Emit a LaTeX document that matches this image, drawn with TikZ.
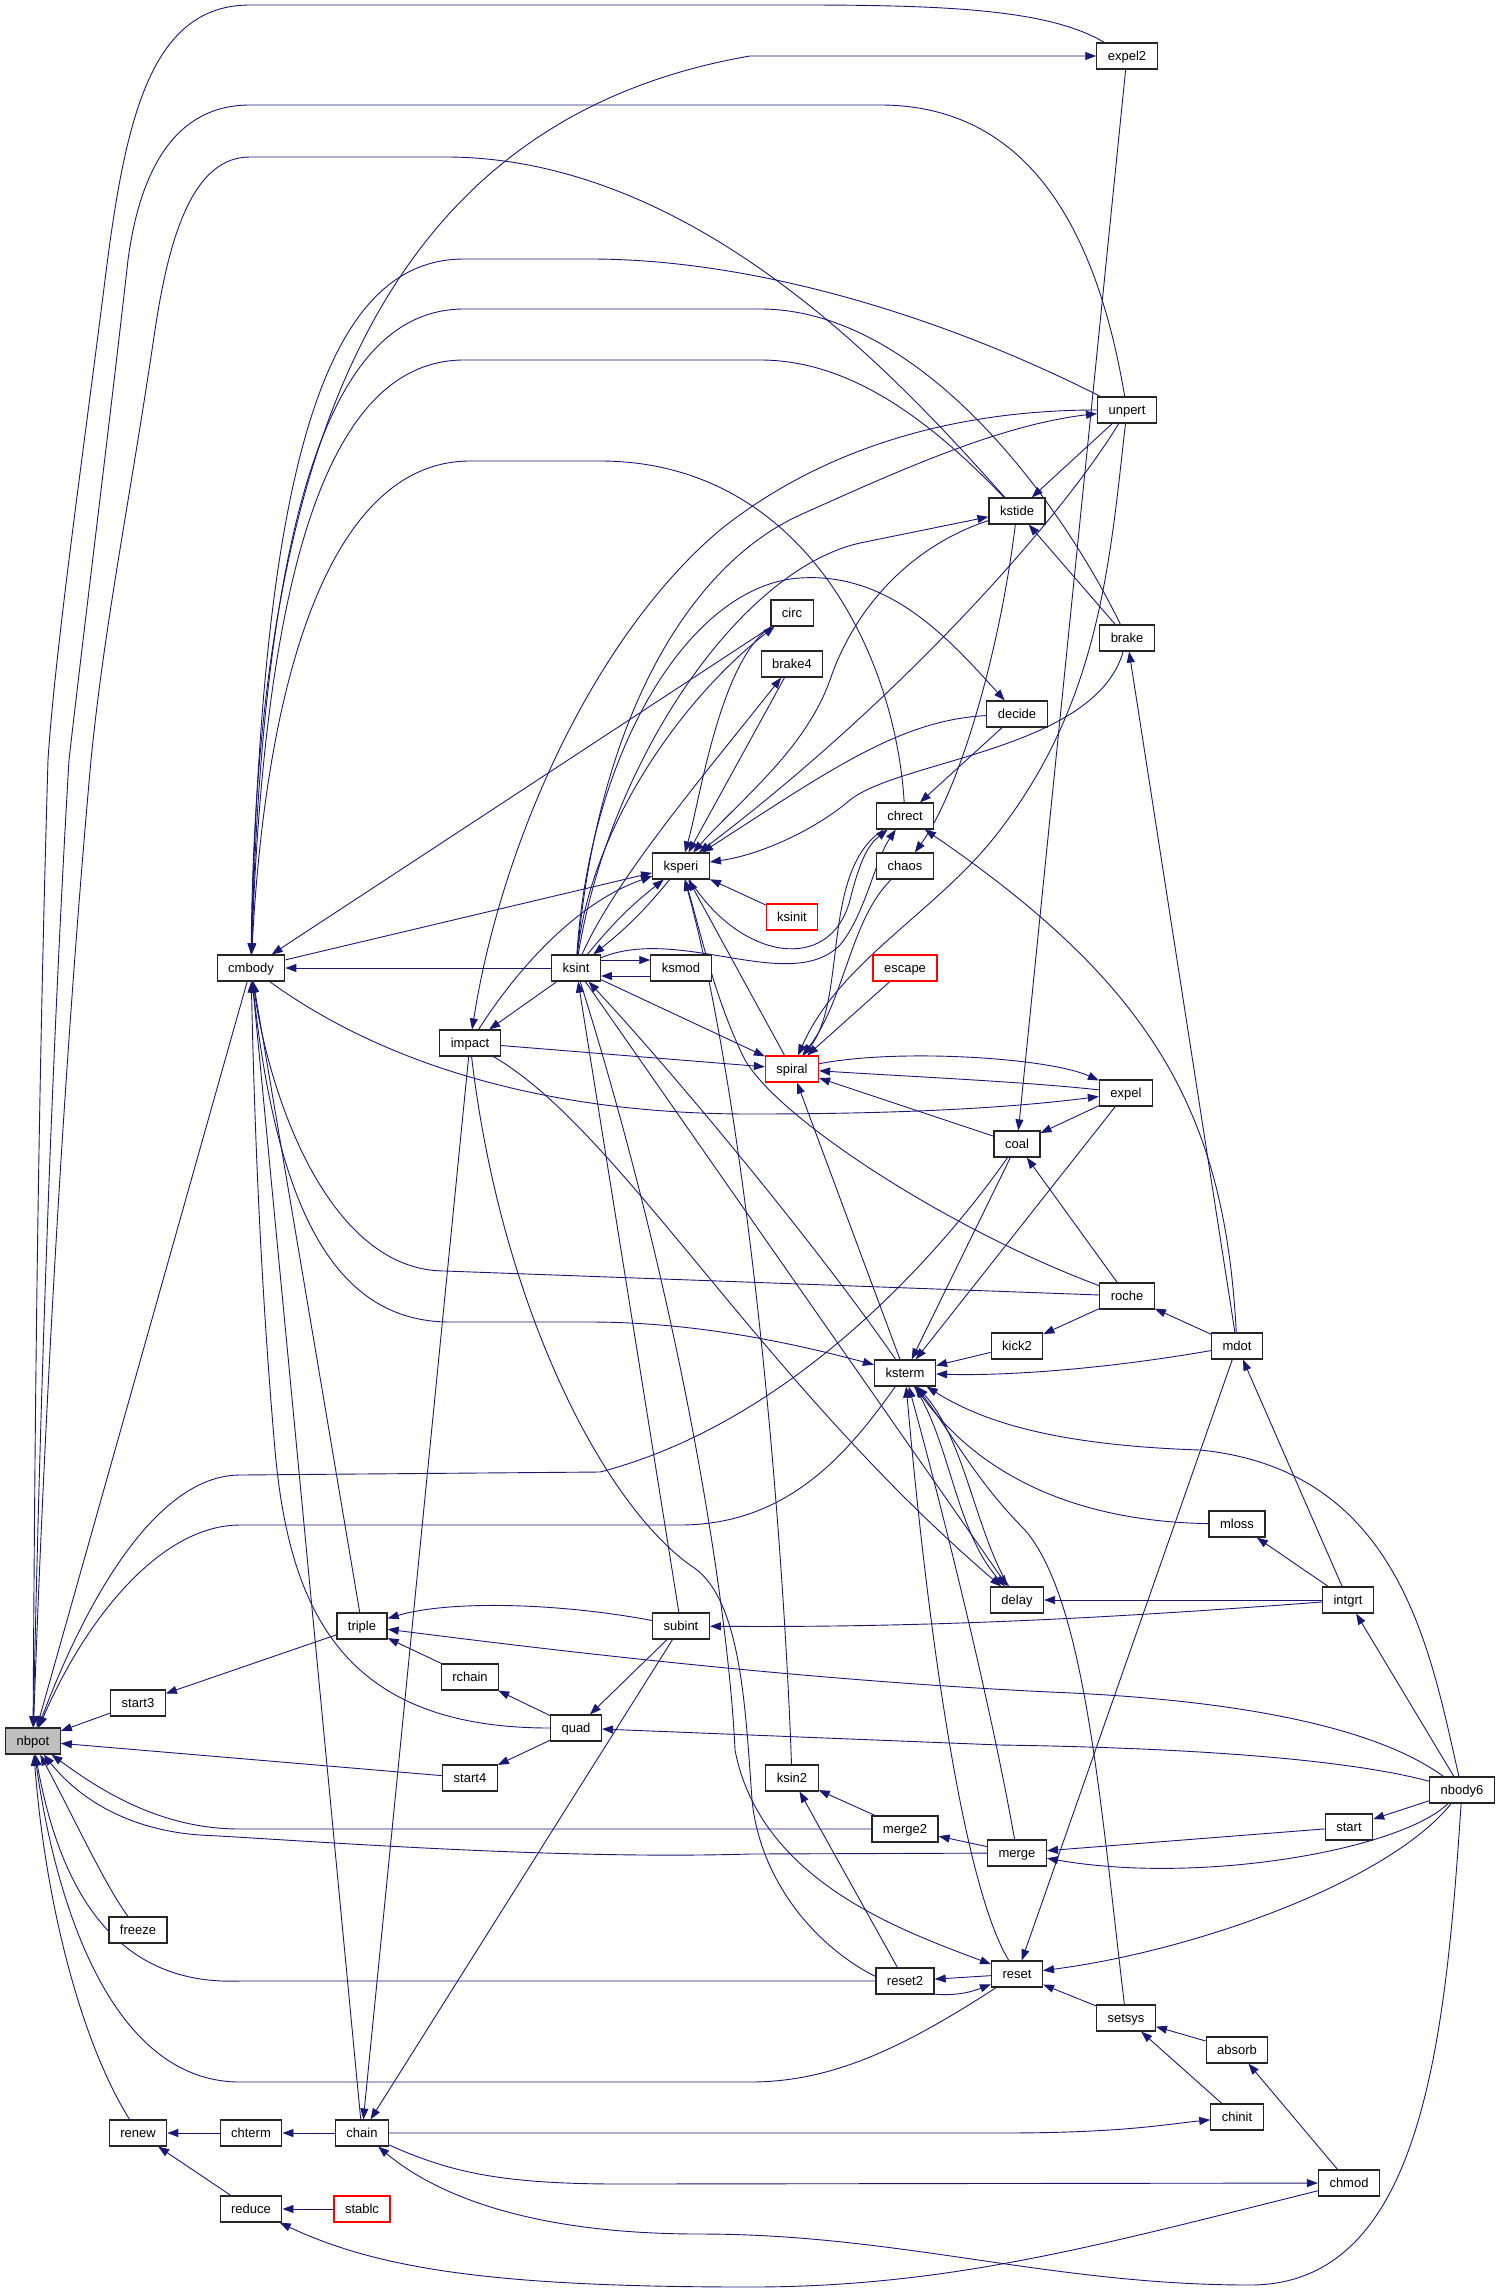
\documentclass[tikz,border=0pt]{standalone}
\usepackage{fontspec}
\setmainfont{Liberation Sans}
\usetikzlibrary{arrows.meta}
\usetikzlibrary{backgrounds}
\definecolor{callblue}{HTML}{191970}
\definecolor{fnred}{HTML}{FF0000}
\definecolor{fngray}{HTML}{BFBFBF}
\begin{document}
\begin{tikzpicture}[x=1pt, y=-1pt, >={Triangle[length=11pt,width=8pt]},
  fn/.style={draw=black!85, line width=1.2pt, fill=white, inner xsep=11pt, inner ysep=0pt, minimum height=26pt, text height=9.5pt, text depth=0pt, font=\fontsize{13}{15}\selectfont},
  fnlost/.style={fn, draw=fnred},
  fnroot/.style={fn, fill=fngray},
  call/.style={callblue, line width=0.9pt, ->}]
\useasboundingbox (0,0) rectangle (1501,2291);
\node[fnroot] (nbpot) at (33,1741) {nbpot};
\foreach \n/\x/\y in {cmbody/251/968, start3/138/1703, freeze/138/1930, renew/138/2133, chterm/251/2133, chain/362/2133, reduce/251/2209, triple/362/1626, rchain/470/1677, start4/470/1778, impact/470/1043, quad/576/1728, subint/681/1626, ksint/576/968, ksmod/681/968, ksperi/681/866, circ/792/613, brake4/792/664, ksin2/792/1778, merge2/905/1829, reset2/905/1981, ksterm/905/1373, chrect/905/816, chaos/905/866, decide/1017/714, kstide/1017/511, unpert/1127/410, expel2/1127/56, brake/1127/638, coal/1017/1144, expel/1126/1093, kick2/1017/1346, roche/1127/1296, mdot/1237/1346, delay/1017/1600, merge/1017/1853, reset/1017/1974, mloss/1237/1524, intgrt/1348/1600, nbody6/1462/1790, start/1349/1827, setsys/1126/2018, absorb/1237/2050, chinit/1237/2117, chmod/1349/2183}
  \node[fn] (\n) at (\x,\y) {\n};
\foreach \n/\x/\y in {stablc/362/2209, ksinit/792/917, spiral/792/1069, escape/905/968}
  \node[fnlost] (\n) at (\x,\y) {\n};
\begin{scope}[on background layer]
\foreach \a/\b in {start3/nbpot, start4/nbpot, cmbody/nbpot, chterm/renew, reduce/renew, chain/chterm, stablc/reduce, triple/start3, rchain/triple, quad/rchain, quad/start4, subint/quad, subint/chain, impact/chain, chain/cmbody, triple/cmbody, circ/cmbody, cmbody/ksperi, ksint/cmbody, ksint/impact, unpert/kstide, brake/kstide, decide/chrect, escape/spiral, ksinit/ksperi, brake4/ksperi, spiral/ksperi, ksint/spiral, impact/spiral, ksint/delay, coal/spiral, ksterm/spiral, coal/ksterm, expel/ksterm, kick2/ksterm, roche/coal, expel/coal, expel2/coal, roche/kick2, mdot/roche, mdot/brake, intgrt/mdot, mdot/reset, intgrt/mloss, intgrt/delay, nbody6/intgrt, nbody6/start, start/merge, merge/merge2, merge2/ksin2, reset2/ksin2, reset/reset2, setsys/reset, absorb/setsys, chinit/setsys, chmod/absorb}
  \draw[call] (\a) -- (\b);
\draw[call] ([yshift=8pt]ksint.east) -- ([yshift=8pt]ksmod.west);
\draw[call] ([yshift=-8pt]ksmod.west) -- ([yshift=-8pt]ksint.east);
\draw[call] (ksint) to[bend left=6] (ksperi);
\draw[call] (ksperi) to[bend left=6] (ksint);
\draw[call] (expel2) .. controls (1050,10) and (950,5) .. (800,5) -- (250,5) .. controls (150,5) and (125,120) .. (105,280) .. controls (85,440) and (55,650) .. (48,760) .. controls (38,1100) and (35,1400) .. (nbpot);
\draw[call] (unpert) .. controls (1100,250) and (1040,105) .. (880,105) -- (250,105) .. controls (175,105) and (140,170) .. (128,260) .. controls (110,420) and (85,620) .. (69,760) .. controls (52,1050) and (40,1400) .. (nbpot);
\draw[call] (kstide) .. controls (900,380) and (700,160) .. (450,157) -- (250,157) .. controls (195,157) and (170,230) .. (155,330) .. controls (130,500) and (105,620) .. (91,760) .. controls (65,1050) and (45,1400) .. (nbpot);
\draw[call] (coal) .. controls (950,1240) and (800,1420) .. (600,1472) -- (240,1475) .. controls (160,1475) and (90,1590) .. (nbpot);
\draw[call] (ksterm) .. controls (850,1450) and (790,1525) .. (680,1525) -- (240,1525) .. controls (160,1525) and (85,1620) .. (nbpot);
\draw[call] (merge2) -- (240,1829) .. controls (160,1829) and (100,1790) .. (nbpot);
\draw[call] (merge) -- (750,1854) .. controls (550,1860) and (300,1840) .. (200,1835) .. controls (130,1830) and (80,1800) .. (nbpot);
\draw[call] (reset2) -- (240,1981) .. controls (115,1986) and (60,1890) .. (nbpot);
\draw[call] (reset) .. controls (900,2050) and (830,2082) .. (750,2082) -- (240,2082) .. controls (110,2082) and (55,1900) .. (nbpot);
\draw[call] (renew) .. controls (80,2040) and (45,1900) .. (nbpot);
\draw[call] (freeze) .. controls (105,1885) and (75,1820) .. (nbpot);
\draw[call] (cmbody) .. controls (255,450) and (380,120) .. (750,56) -- (expel2);
\draw[call] (unpert) .. controls (950,320) and (760,259) .. (590,259) -- (464,259) .. controls (330,259) and (262,450) .. (cmbody);
\draw[call] (brake) .. controls (1060,500) and (920,309) .. (760,309) -- (464,309) .. controls (335,309) and (264,500) .. (cmbody);
\draw[call] (kstide) .. controls (930,420) and (850,360) .. (760,360) -- (464,360) .. controls (335,360) and (266,550) .. (cmbody);
\draw[call] (chrect) .. controls (895,650) and (800,461) .. (600,461) -- (470,461) .. controls (340,461) and (268,650) .. (cmbody);
\draw[call] (cmbody) .. controls (350,1040) and (500,1114) .. (750,1114) .. controls (900,1114) and (1010,1108) .. (expel);
\draw[call] (roche) -- (445,1271) .. controls (330,1271) and (270,1100) .. (cmbody);
\draw[call] (cmbody) .. controls (275,1200) and (330,1322) .. (450,1322) -- (590,1322) .. controls (700,1322) and (800,1345) .. (ksterm);
\draw[call] (quad) .. controls (350,1728) and (290,1620) .. (275,1450) .. controls (262,1300) and (255,1150) .. (cmbody);
\draw[call] (subint) .. controls (560,1603) and (450,1600) .. (triple);
\draw[call] (nbody6) .. controls (1380,1730) and (1250,1700) .. (1050,1692) .. controls (800,1680) and (550,1650) .. (triple);
\draw[call] (nbody6) .. controls (1350,1760) and (1200,1748) .. (1000,1745) -- (quad);
\draw[call] (intgrt) .. controls (1150,1615) and (950,1628) .. (subint);
\draw[call] (subint) .. controls (645,1400) and (605,1150) .. (ksint);
\draw[call] (ksint) .. controls (680,1300) and (728,1600) .. (735,1750) .. controls (760,1880) and (900,1930) .. (reset);
\draw[call] (impact) .. controls (500,1300) and (600,1500) .. (690,1565) .. controls (740,1595) and (745,1700) .. (752,1800) .. controls (765,1930) and (900,2020) .. (reset);
\draw[call] (ksterm) .. controls (820,1250) and (680,1080) .. (ksint);
\draw[call] (impact) .. controls (620,1130) and (760,1380) .. (delay);
\draw[call] (ksint) .. controls (600,700) and (700,560) .. (800,515) .. controls (900,470) and (1000,425) .. (unpert);
\draw[call] (unpert) .. controls (950,410) and (820,450) .. (720,530) .. controls (590,640) and (500,850) .. (impact);
\draw[call] (ksint) .. controls (610,760) and (740,570) .. (860,543) -- (kstide);
\draw[call] (kstide) .. controls (900,550) and (850,620) .. (830,680) .. controls (805,750) and (740,800) .. (ksperi);
\draw[call] (unpert) .. controls (1060,520) and (900,700) .. (ksperi);
\draw[call] (decide) .. controls (900,720) and (830,770) .. (ksperi);
\draw[call] (brake) .. controls (1095,750) and (900,760) .. (850,800) .. controls (815,830) and (760,855) .. (ksperi);
\draw[call] (ksint) .. controls (590,750) and (690,585) .. (800,578) .. controls (890,572) and (950,640) .. (decide);
\draw[call] (ksint) .. controls (680,925) and (790,995) .. (840,945) .. controls (865,915) and (875,860) .. (chrect);
\draw[call] (ksperi) .. controls (740,960) and (830,975) .. (850,900) .. controls (860,860) and (868,845) .. (chrect);
\draw[call] (chrect) .. controls (820,870) and (848,1000) .. (spiral);
\draw[call] (chaos) .. controls (850,920) and (845,1000) .. (spiral);
\draw[call] (unpert) .. controls (1110,560) and (1100,700) .. (1000,830) .. controls (940,910) and (840,960) .. (spiral);
\draw[call] (kstide) .. controls (1000,650) and (960,790) .. (chaos);
\draw[call] (circ) .. controls (720,660) and (700,800) .. (ksperi);
\draw[call] (impact) .. controls (510,980) and (570,905) .. (ksperi);
\draw[call] (ksint) .. controls (590,830) and (680,700) .. (circ);
\draw[call] (ksint) .. controls (615,880) and (700,780) .. (brake4);
\draw[call] (roche) .. controls (950,1230) and (780,1120) .. (745,1060) .. controls (715,1000) and (700,930) .. (ksperi);
\draw[call] (ksin2) .. controls (782,1500) and (745,1100) .. (ksperi);
\draw[call] (spiral) .. controls (900,1048) and (1050,1058) .. (expel);
\draw[call] (expel) .. controls (1030,1082) and (900,1076) .. (spiral);
\draw[call] (mdot) .. controls (1100,1370) and (1000,1376) .. (ksterm);
\draw[call] (mdot) .. controls (1225,1120) and (1160,990) .. (chrect);
\draw[call] (nbody6) .. controls (1430,1650) and (1400,1470) .. (1200,1450) .. controls (1050,1445) and (980,1420) .. (ksterm);
\draw[call] (mloss) .. controls (1100,1522) and (990,1490) .. (ksterm);
\draw[call] (setsys) .. controls (1100,1800) and (1085,1600) .. (1025,1530) .. controls (975,1480) and (950,1430) .. (ksterm);
\draw[call] (reset) .. controls (960,1880) and (925,1600) .. (ksterm);
\draw[call] (merge) .. controls (990,1700) and (940,1500) .. (ksterm);
\draw[call] (ksterm) .. controls (950,1440) and (955,1530) .. (delay);
\draw[call] (delay) .. controls (975,1530) and (965,1440) .. (ksterm);
\draw[call] (nbody6) .. controls (1400,1850) and (1200,1885) .. (merge);
\draw[call] (nbody6) .. controls (1390,1880) and (1200,1950) .. (reset);
\draw[call] (chain) -- (1000,2133) .. controls (1120,2133) and (1160,2125) .. (chinit);
\draw[call] (chain) .. controls (450,2172) and (500,2184) .. (620,2184) -- (chmod);
\draw[call] (nbody6) .. controls (1445,2050) and (1420,2285) .. (1250,2285) .. controls (1050,2285) and (900,2234) .. (700,2234) .. controls (520,2234) and (430,2190) .. (chain);
\draw[call] (chmod) .. controls (1100,2245) and (950,2287) .. (750,2287) .. controls (500,2287) and (380,2270) .. (reduce);
\end{scope}
\end{tikzpicture}
\end{document}
